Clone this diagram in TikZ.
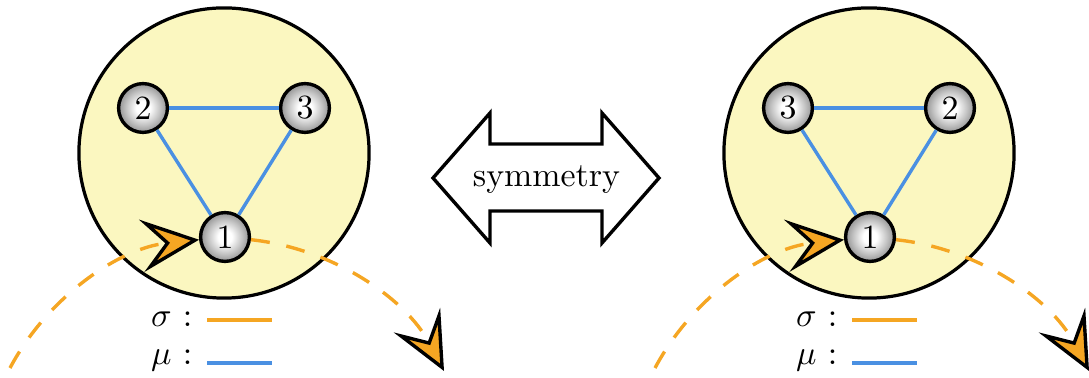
\documentclass[tikz,border=0pt]{standalone}
\usetikzlibrary{arrows.meta}
\definecolor{cyellow}{RGB}{251,247,192}
\definecolor{corange}{RGB}{245,166,35}
\definecolor{cblue}{RGB}{74,144,226}
\pgfdeclareradialshading{ballshade}{\pgfpoint{0bp}{0bp}}{color(0bp)=(white); color(7bp)=(white); color(18bp)=(black!25); color(25bp)=(black!42); color(50bp)=(black!50)}
\begin{document}
\begin{tikzpicture}[x=0.295pt,y=0.295pt,
  ball/.style={circle, draw=black, line width=1pt, inner sep=0pt, minimum size=14.4pt, shading=ballshade},
  bond/.style={cblue, line width=1pt},
  big/.style={circle, draw=black, line width=0.95pt, fill=cyellow, minimum size=85.6pt, inner sep=0pt},
  orbit/.style={corange, line width=1pt, dash pattern=on 5.6pt off 5pt},
  orbtip/.style={-{Stealth[length=17pt,width=15.5pt,inset=7pt,color=black,fill=corange,line width=1pt]}},
  legtext/.style={anchor=base east, inner sep=0pt},
  legline/.style={line width=1pt},
  bigarrow/.style={draw=black, line width=1pt, fill=white, line join=miter}
]
\useasboundingbox (0,0) rectangle (1089,378);

% ---------- left panel ----------
\node[big] (L) at (224,225) {};
\node[ball] (L2) at (143,270) {2};
\node[ball] (L3) at (305,270) {3};
\node[ball] (L1) at (225,141) {1};
\draw[bond] (L2) -- (L3);
\draw[bond] (L2) -- (L1);
\draw[bond] (L3) -- (L1);
\coordinate (Ls) at (10,10);
\coordinate (Le) at (444,7);
\draw[orbit, orbtip] (Ls) to[out=62, in=186, looseness=0.9] (L1);
\draw[orbit, orbtip] (L1) to[out=-6, in=118, looseness=0.9] (Le);
\node[legtext] (Lsig) at (193,51) {$\sigma$ :};
\node[legtext] (Lmu) at (193,13) {$\mu$ :};
\coordinate (Lsa) at (207,58); \coordinate (Lsb) at (272,58);
\coordinate (Lma) at (207,15); \coordinate (Lmb) at (272,15);
\draw[legline, corange] (Lsa) -- (Lsb);
\draw[legline, cblue] (Lma) -- (Lmb);

% ---------- double arrow ----------
\draw[bigarrow] (433,200) -- (490,265) -- (490,234) -- (602,234) -- (602,265) -- (659,200)
  -- (602,135) -- (602,167) -- (490,167) -- (490,135) -- cycle;
\node (sym) at (546.5,198) {symmetry};

% ---------- right panel ----------
\begin{scope}[shift={(645,0)}]
\node[big] (R) at (224,225) {};
\node[ball] (R3) at (143,270) {3};
\node[ball] (R2) at (305,270) {2};
\node[ball] (R1) at (225,141) {1};
\draw[bond] (R3) -- (R2);
\draw[bond] (R3) -- (R1);
\draw[bond] (R2) -- (R1);
\coordinate (Rs) at (10,10);
\coordinate (Re) at (444,7);
\draw[orbit, orbtip] (Rs) to[out=62, in=186, looseness=0.9] (R1);
\draw[orbit, orbtip] (R1) to[out=-6, in=118, looseness=0.9] (Re);
\node[legtext] (Rsig) at (193,51) {$\sigma$ :};
\node[legtext] (Rmu) at (193,13) {$\mu$ :};
\coordinate (Rsa) at (207,58); \coordinate (Rsb) at (272,58);
\coordinate (Rma) at (207,15); \coordinate (Rmb) at (272,15);
\draw[legline, corange] (Rsa) -- (Rsb);
\draw[legline, cblue] (Rma) -- (Rmb);
\end{scope}
\end{tikzpicture}
\end{document}
